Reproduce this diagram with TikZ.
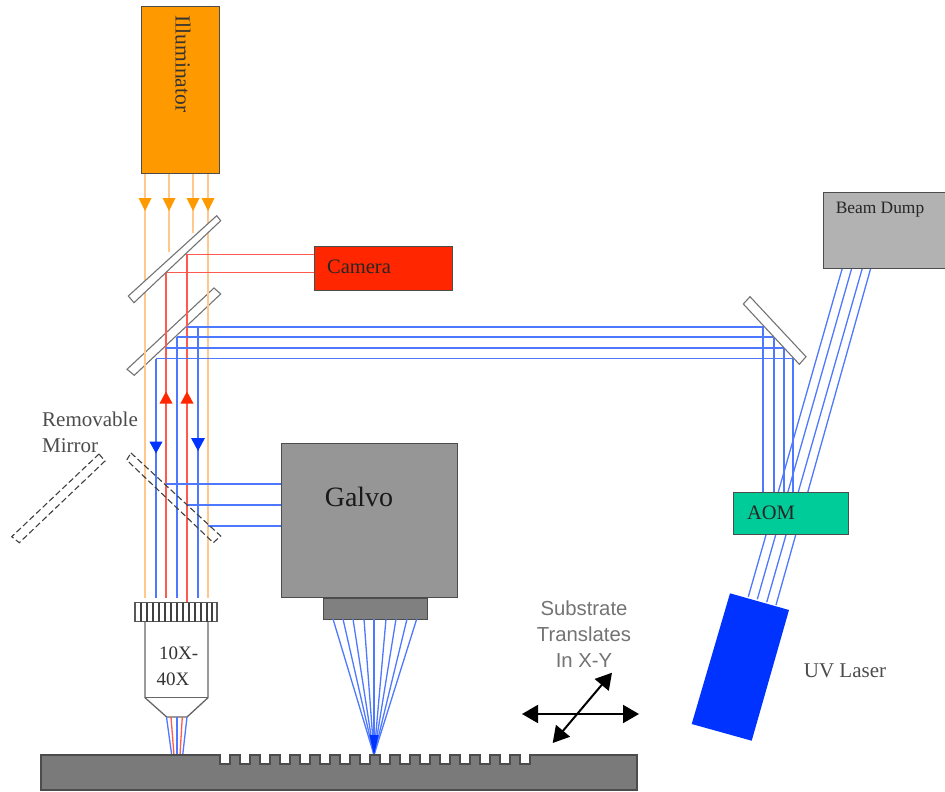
\documentclass[tikz,border=0pt]{standalone}
\usepackage{fontspec}
\setmainfont{Liberation Serif}
\newfontfamily\lsans{Liberation Sans}
\usetikzlibrary{arrows.meta}
\definecolor{orbeam}{HTML}{FFC88C}
\definecolor{rdbeam}{HTML}{FF5A50}
\definecolor{blbeam}{HTML}{4D78FF}
\definecolor{orfill}{HTML}{FF9900}
\definecolor{rdfill}{HTML}{FF2600}
\definecolor{blfill}{HTML}{0033FF}
\definecolor{aomfill}{HTML}{00CC99}
\tikzset{
  orb/.style={orbeam,line width=1.4pt},
  rdb/.style={rdbeam,line width=1.3pt},
  blb/.style={blbeam,line width=1.3pt},
  tipor/.style={fill=orfill,draw=none},
  tiprd/.style={fill=rdfill,draw=none},
  tipbl/.style={fill=blfill,draw=none},
  mirror/.style={draw=black!55,fill=white,line width=1.1pt},
  remmirror/.style={draw=black!75,dash pattern=on 6pt off 3pt,line width=1.1pt},
  boxframe/.style={draw=black!70,line width=1.1pt,inner sep=0pt},
  lab/.style={font=\fontsize{21}{26}\selectfont,text=black!70,align=left,inner sep=0pt},
  two/.style={{Triangle[length=16pt,width=18pt]}-{Triangle[length=16pt,width=18pt]},line width=2pt,black},
}
\begin{document}
\begin{tikzpicture}[x=1pt,y=-1pt]
\useasboundingbox (0,0) rectangle (945,792);
% mirror 2 (beams run over it)
\draw[mirror] (214,288) -- (220.7,294) -- (134.3,375.3) -- (127,369.3) -- cycle;
% orange beams
\draw[orb] (145,173) -- (145,598);
\draw[orb] (169,173) -- (169,252);
\draw[orb] (193,173) -- (193,233);
\draw[orb] (208,173) -- (208,598);
% red beams
\draw[rdb] (314,254.7) -- (187,254.7) -- (187,602);
\draw[rdb] (314,272.7) -- (166,272.7) -- (166,598);
% blue beams, upper run
\draw[blb] (187,327) -- (763,327) -- (763,492);
\draw[blb] (177,337) -- (774,337) -- (774,492);
\draw[blb] (166,348) -- (784,348) -- (784,492);
\draw[blb] (156,358.5) -- (793,358.5) -- (793,492);
\draw[blb] (156,358.5) -- (156,598);
\draw[blb] (177,337) -- (177,598);
\draw[blb] (198,327) -- (198,598);
% blue beams to galvo
\draw[blb] (166,484) -- (281,484);
\draw[blb] (187,505) -- (281,505);
\draw[blb] (208,526) -- (281,526);
% laser to dump
\draw[blb] (748.3,596.7) -- (842.3,268.3);
\draw[blb] (757.3,599.3) -- (851.7,268.3);
\draw[blb] (766.7,602.3) -- (862.3,268.3);
\draw[blb] (776,605) -- (870.7,268.3);
% mirror 1, right mirror
\draw[mirror] (216.7,215.7) -- (220.7,220.7) -- (134,302.7) -- (128.3,296) -- cycle;
\draw[mirror] (750,296.7) -- (806,356.7) -- (799.3,364.3) -- (743.3,304) -- cycle;
% removable mirror, two positions
\draw[remmirror] (131,453) -- (220.7,536) -- (213.3,542.7) -- (126.7,460) -- cycle;
\draw[remmirror] (99,454) -- (105,461) -- (19.3,542.7) -- (11.7,536.7) -- cycle;
% arrow heads
\foreach \x/\y in {145/198,169/198,193/198,208/198}
  \fill[tipor] (\x-6.5,\y) -- (\x+6.5,\y) -- (\x,\y+13) -- cycle;
\foreach \x/\y in {166/403.5,187/403.5}
  \fill[tiprd] (\x-6.5,\y) -- (\x+6.5,\y) -- (\x,\y-12) -- cycle;
\fill[tipbl] (149.5,441.7) -- (162.5,441.7) -- (156,453.5) -- cycle;
\fill[tipbl] (191,438) -- (205,438) -- (198,451) -- cycle;
% boxes
\node[boxframe,fill=orfill,minimum width=78pt,minimum height=167pt,anchor=north west] (illum) at (141,6) {};
\node[font=\fontsize{21.5}{24}\selectfont,rotate=-90,text=black!80,inner sep=0pt] (illumtext) at (183,64) {Illuminator};
\node[boxframe,fill=rdfill,minimum width=138pt,minimum height=44pt,anchor=north west] (camera) at (314,246) {};
\node[font=\fontsize{20.5}{24}\selectfont,text=black!85,inner sep=0pt] (cameratext) at (359,266.5) {Camera};
\node[boxframe,fill=black!30,minimum width=122pt,minimum height=76pt,anchor=north west] (dump) at (823,192) {};
\node[font=\fontsize{17.4}{20}\selectfont,text=black!85,inner sep=0pt] (dumptext) at (880,210) {Beam Dump};
\node[boxframe,fill=aomfill,minimum width=115pt,minimum height=42pt,anchor=north west] (aom) at (733,492) {};
\node[font=\fontsize{20.5}{24}\selectfont,text=black!85,inner sep=0pt] (aomtext) at (771,512.5) {AOM};
\node[boxframe,fill=black!41,minimum width=176pt,minimum height=154pt,anchor=north west] (galvo) at (281,443) {};
\node[font=\fontsize{28}{32}\selectfont,text=black!90,inner sep=0pt] (galvotext) at (359,497) {Galvo};
\node[boxframe,fill=black!50,minimum width=104pt,minimum height=21pt,anchor=north west] (galvolens) at (322.7,598) {};
% laser
\fill[blfill] (730,593.3) -- (789,610) -- (751.7,740.7) -- (691.7,724) -- cycle;
% fan
\foreach \x in {333,343,353,364,374,386,396,407,416.7}
  \draw[blb] (\x,619) -- (374,755);
\fill[blfill] (369.5,735) -- (378.5,735) -- (374,755) -- cycle;
% objective
\draw[black!60,line width=1.3pt,fill=white] (145,621.7) -- (145,697.7) -- (166.7,717) -- (187,717) -- (208,697.7) -- (208,621.7);
\draw[black!60,line width=1.2pt] (145,697.7) -- (208,697.7);
\draw[black!65,line width=1.2pt,fill=white] (135,602.7) rectangle (217,621.7);
\foreach \x in {141,147,153,159,165,171,177,183,189,195,201,207,212}
  \draw[black!75,line width=1.1pt] (\x,602.7) -- (\x,621.7);
\node[font=\fontsize{19}{26}\selectfont,text=black!80,inner sep=0pt,align=left] (objtext) at (177.5,666) {\hspace*{2.5pt}10X-\\40X};
% objective output beams
\draw[blb] (166.5,717) -- (171.7,755);
\draw[rdb] (171,717) -- (174,755);
\draw[blb] (177,717) -- (177,755);
\draw[rdb] (182.3,717) -- (180,755);
\draw[blb] (187,717) -- (182.7,755);
% substrate
\draw[black!70,line width=1.3pt,fill=black!52] (41,755) -- (220,755)
  \foreach \k in {0,...,15}{ -- (220+20*\k,764) -- (230+20*\k,764) -- (230+20*\k,755) -- (240+20*\k,755)}
  -- (530,755) -- (637,755) -- (637,790) -- (41,790) -- cycle;
% labels
\node[lab,anchor=north west] (removable) at (42,412) {Removable\\Mirror};
\node[lab,anchor=center] (uvlaser) at (845,671) {UV Laser};
\node[font=\lsans\fontsize{20.3}{26}\selectfont,text=black!55,align=center,inner sep=0pt] (subtext) at (584,634) {Substrate\\Translates\\In X-Y};
% translation arrows
\coordinate (hl) at (522,714);
\coordinate (hr) at (639,714);
\coordinate (dt) at (612,672.7);
\coordinate (db) at (552.7,743);
\draw[two] (hl) -- (hr);
\draw[two] (db) -- (dt);
\end{tikzpicture}
\end{document}
